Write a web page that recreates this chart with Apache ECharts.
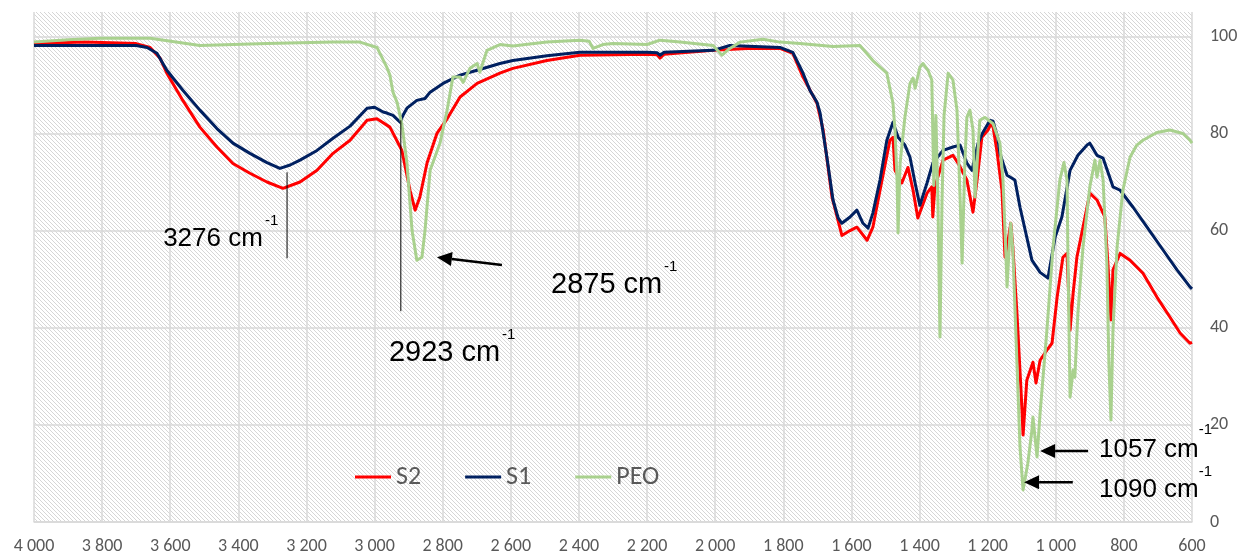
<!DOCTYPE html>
<html>
<head>
<meta charset="utf-8">
<script src="https://cdn.jsdelivr.net/npm/echarts@6/dist/echarts.min.js"></script>
<style>
  html, body { margin: 0; padding: 0; background: #fff; }
  #chart { width: 1244px; height: 556px; }
</style>
</head>
<body>
<div id="chart"></div>
<script>
// FTIR spectra, [wavenumber cm-1, transmittance %]
var s2Data = [
  [4000, 98.5], [3850, 98.8], [3700, 98.5], [3659, 97.7], [3630, 95.5], [3610, 92.4],
  [3563, 86.8], [3513, 81.3], [3463, 77.2], [3416, 73.8], [3366, 71.8], [3316, 70],
  [3269, 68.7], [3219, 70], [3169, 72.4], [3122, 75.9], [3072, 78.6], [3022, 82.7],
  [2993, 83], [2955, 81.3], [2925, 77.2], [2920, 76.5], [2896, 68.3],
  [2881, 64.2], [2867, 66.9], [2846, 73.9], [2817, 80], [2787, 83], [2749, 87.5],
  [2699, 90.3], [2632, 92.4], [2594, 93.4], [2494, 95], [2397, 96.1], [2200, 96.3],
  [2170, 96.2], [2162, 95.5], [2150, 96.3], [2006, 97.1], [1907, 97.5], [1810, 97.5],
  [1772, 96.5], [1742, 91.6], [1701, 86.2], [1683, 80.7], [1657, 66.9], [1628, 59],
  [1604, 60], [1584, 60.7], [1554, 58], [1537, 60.7], [1516, 68.3], [1487, 78.6],
  [1478, 79.2], [1472, 72.4], [1452, 69.8], [1434, 73], [1419, 68.3], [1405, 62.6],
  [1378, 67.7], [1364, 69], [1361, 62.8], [1355, 69], [1331, 74.5], [1302, 75.5],
  [1287, 73.9], [1261, 70.4], [1243, 63.8], [1231, 70.4], [1217, 79.2], [1199, 80.7],
  [1190, 82], [1184, 81.3], [1173, 76.5], [1158, 68.3], [1149, 54.5], [1140, 58],
  [1132, 61.5], [1126, 56.6], [1114, 43], [1101, 25.7], [1096, 17.9], [1085, 29.2],
  [1067, 32.9], [1058, 28.6], [1046, 33.3], [1026, 35.4], [1011, 36.8], [996, 46.3],
  [979, 54.5], [967, 55.3], [958, 39.5], [949, 47.1], [938, 54.5], [920, 60.7],
  [900, 67.7], [879, 66.3], [856, 62.8], [847, 53.3], [838, 41.6], [832, 51.9],
  [811, 55.3], [782, 53.9], [744, 51.2], [703, 46.3], [665, 42.2], [635, 38.9],
  [606, 36.8], [600, 37]
];

var s1Data = [
  [4000, 98.1], [3700, 98.1], [3668, 97.7], [3639, 96.5], [3610, 93], [3563, 88.9],
  [3513, 84.8], [3463, 81], [3416, 78], [3366, 75.9], [3316, 74], [3278, 72.8],
  [3248, 73.5], [3219, 74.5], [3169, 76.5], [3122, 79], [3072, 81.5], [3022, 85.2],
  [3000, 85.4], [2975, 84.4], [2964, 84.2], [2946, 83.7], [2925, 82.3], [2917, 83.7], [2905, 85.2],
  [2876, 86.8], [2852, 87.2], [2837, 88.5], [2799, 90.3], [2749, 92], [2699, 93],
  [2632, 94.4], [2594, 95], [2494, 96], [2397, 96.7], [2200, 96.7], [2170, 96.6],
  [2162, 96.1], [2150, 96.7], [2006, 97.1], [1957, 98.1], [1810, 97.7], [1772, 96.7],
  [1742, 92.4], [1722, 88.9], [1701, 86.4], [1692, 84.2], [1672, 75.1], [1654, 66.3],
  [1639, 62.6], [1628, 61.5], [1604, 62.8], [1584, 64.2], [1566, 61.5], [1551, 60.5],
  [1537, 63.6], [1516, 70.4], [1496, 78.6], [1478, 82.3], [1463, 79.2], [1443, 77.6],
  [1428, 75.1], [1413, 69.8], [1399, 65.2], [1378, 69.8], [1361, 73.9], [1331, 76.5],
  [1302, 77.2], [1281, 77.6], [1261, 73.9], [1246, 72.4], [1228, 78], [1214, 80.2],
  [1193, 82.7], [1184, 82.5], [1178, 81], [1170, 79], [1164, 75.9], [1143, 71.4],
  [1120, 70.4], [1105, 64.8], [1085, 58.6], [1070, 53.9], [1046, 51.4], [1023, 50.2],
  [1002, 58.6], [982, 62.8], [958, 72.4], [935, 75.5], [908, 77.6], [900, 78],
  [879, 75.5], [861, 74.9], [832, 69], [811, 68.3], [773, 64.8], [732, 60.7],
  [685, 56], [644, 51.9], [606, 48.4], [600, 48]
];

var peoData = [
  [4000, 98.8], [3900, 99.3], [3806, 99.6], [3659, 99.6], [3513, 98.1], [3316, 98.5],
  [3122, 98.8], [3043, 98.8], [2993, 97.7], [2964, 93.6], [2955, 92], [2946, 88.5],
  [2934, 86.4], [2920, 82], [2905, 73.9], [2890, 60], [2876, 53.9], [2861, 54.5],
  [2852, 60], [2837, 72.4], [2808, 78], [2787, 84.8], [2770, 91.6], [2749, 91.6],
  [2740, 90.5], [2720, 93.4], [2699, 94.4], [2691, 92.6], [2670, 97.1], [2632, 98.3],
  [2594, 98], [2494, 98.8], [2397, 99.2], [2370, 99], [2359, 97.5], [2330, 98.3],
  [2300, 98.5], [2200, 98.3], [2162, 99.2], [2103, 98.8], [2006, 98.1], [1980, 96.1],
  [1957, 97.5], [1927, 98.8], [1860, 99.4], [1810, 98.8], [1751, 98.5], [1654, 97.9],
  [1575, 98.1], [1537, 95], [1496, 92.4], [1478, 86.2], [1472, 80.7], [1466, 70.4],
  [1463, 59.5], [1457, 73.9], [1443, 83.3], [1428, 90.3], [1419, 91.4], [1413, 89.3],
  [1399, 93.6], [1390, 94.4], [1375, 93], [1364, 91], [1358, 69.3], [1352, 83.7],
  [1346, 66.3], [1340, 38.1], [1334, 66], [1328, 83.7], [1316, 92.4], [1302, 91],
  [1290, 84.8], [1281, 66.9], [1275, 53.3], [1267, 73.9], [1261, 83.3], [1252, 84.8],
  [1243, 80.7], [1237, 66.9], [1223, 82.7], [1208, 83.3], [1184, 82], [1164, 78],
  [1155, 70.4], [1149, 60], [1143, 48.4], [1134, 60], [1132, 61.5], [1126, 56],
  [1114, 32.7], [1105, 15.4], [1096, 6.6], [1082, 12.1], [1070, 18.9], [1067, 21.6],
  [1055, 13.4], [1046, 22.4], [1026, 39.5], [1008, 56.6], [988, 70.4], [976, 74],
  [967, 70.4], [964, 53.3], [958, 25.7], [949, 31.3], [944, 29.8], [935, 43],
  [920, 56.6], [900, 69], [885, 74.5], [879, 71], [870, 74.5], [861, 70.4],
  [850, 53.3], [844, 32.7], [838, 21], [832, 39.5], [820, 56.6], [803, 68.3],
  [782, 75.1], [762, 77.6], [744, 78.6], [703, 80.2], [665, 80.7], [627, 80],
  [606, 78.6], [600, 78]
];

var seriesNames = ['S2', 'S1', 'PEO'];
var seriesColors = ['#FF0000', '#002060', '#A9D18E'];

// peak labels: text, where the text starts / ends, and the line or arrow it carries
var peakNotes = [
  { text: '3276 cm', size: 26, at: [3328, 58.4], align: 'right', sup: [3322, 62.1], line: [[3257, 72], [3257, 54.3]] },
  { text: '2923 cm', size: 29, at: [2958, 34.8], align: 'left', sup: [2626, 38.5], line: [[2923, 82.7], [2923, 43.4]] },
  { text: '2875 cm', size: 29, at: [2482, 48.8], align: 'left', sup: [2150, 52.5], arrow: [[2626, 52.9], [2817, 54.5]] },
  { text: '1057 cm', size: 26, at: [873, 14.8], align: 'left', sup: [580, 18.9], arrow: [[905, 14.6], [1046, 14.6]] },
  { text: '1090 cm', size: 26, at: [873, 6.6], align: 'left', sup: [580, 10.3], arrow: [[950, 8.2], [1093, 8.2]] }
];

var tickFont = 'Carlito, Lato, sans-serif';
var noteFont = '"Liberation Sans", Arial, sans-serif';

function hatch() {
  var cv = document.createElement('canvas');
  cv.width = 4; cv.height = 4;
  var ctx = cv.getContext('2d');
  ctx.fillStyle = '#ffffff';
  ctx.fillRect(0, 0, 4, 4);
  ctx.fillStyle = '#d6d6d6';
  for (var i = 0; i < 4; i++) ctx.fillRect(i, i, 1, 1);
  return cv;
}

function fmtWave(v) {
  if (v >= 1000) {
    var r = String(v % 1000);
    while (r.length < 3) r = '0' + r;
    return Math.floor(v / 1000) + ' ' + r;
  }
  return String(v);
}

var chart = echarts.init(document.getElementById('chart'));

var dataSets = [s2Data, s1Data, peoData];
var series = seriesNames.map(function(name, i) {
  return {
    name: name,
    type: 'line',
    data: dataSets[i],
    showSymbol: false,
    symbol: 'none',
    lineStyle: { color: seriesColors[i], width: 3, join: 'round' },
    itemStyle: { color: seriesColors[i] },
    z: 2 + i
  };
});

chart.setOption({
  animation: false,
  grid: {
    left: 34, right: 52, top: 12, bottom: 34,
    show: true,
    borderWidth: 0,
    backgroundColor: { image: hatch(), repeat: 'repeat' }
  },
  legend: {
    data: seriesNames,
    left: 350,
    top: 459,
    icon: 'rect',
    itemWidth: 36,
    itemHeight: 3,
    itemGap: 44,
    textStyle: { color: '#595959', fontSize: 26, fontFamily: tickFont }
  },
  xAxis: {
    type: 'value',
    inverse: true,
    min: 600,
    max: 4000,
    interval: 200,
    axisLine: { show: true, lineStyle: { color: '#d9d9d9', width: 1.5 } },
    axisTick: { show: false },
    axisLabel: {
      color: '#595959', fontSize: 18, fontFamily: tickFont, margin: 15,
      formatter: fmtWave
    },
    splitLine: { show: true, lineStyle: { color: '#d9d9d9', width: 1.5 } }
  },
  yAxis: {
    type: 'value',
    position: 'right',
    min: 0,
    max: 105,
    interval: 20,
    axisLine: { show: false },
    axisTick: { show: false },
    axisLabel: {
      color: '#595959', fontSize: 18, fontFamily: tickFont, margin: 18,
      showMaxLabel: false
    },
    splitLine: { show: true, showMaxLine: false, lineStyle: { color: '#d9d9d9', width: 1.5 } }
  },
  series: series
});

function px(p) { return chart.convertToPixel({ gridIndex: 0 }, p); }

var elements = [];
peakNotes.forEach(function(n) {
  var a = px(n.at);
  elements.push({
    type: 'text', z: 50,
    style: { text: n.text, x: a[0], y: a[1], align: n.align, verticalAlign: 'middle',
             font: n.size + 'px ' + noteFont, fill: '#000' }
  });
  var s = px(n.sup);
  elements.push({
    type: 'text', z: 50,
    style: { text: '-1', x: s[0], y: s[1], align: 'left', verticalAlign: 'middle',
             font: '15px ' + noteFont, fill: '#000' }
  });
  if (n.line) {
    var p1 = px(n.line[0]), p2 = px(n.line[1]);
    elements.push({
      type: 'line', z: 50,
      shape: { x1: p1[0], y1: p1[1], x2: p2[0], y2: p2[1] },
      style: { stroke: '#000', lineWidth: 1 }
    });
  }
  if (n.arrow) {
    var t = px(n.arrow[0]), h = px(n.arrow[1]);
    var dx = h[0] - t[0], dy = h[1] - t[1];
    var len = Math.sqrt(dx * dx + dy * dy);
    var ux = dx / len, uy = dy / len;
    var bx = h[0] - ux * 15, by = h[1] - uy * 15;
    elements.push({
      type: 'line', z: 50,
      shape: { x1: t[0], y1: t[1], x2: bx, y2: by },
      style: { stroke: '#000', lineWidth: 2.5 }
    });
    elements.push({
      type: 'polygon', z: 50,
      shape: { points: [[h[0], h[1]], [bx - uy * 7, by + ux * 7], [bx + uy * 7, by - ux * 7]] },
      style: { fill: '#000' }
    });
  }
});

chart.setOption({ graphic: elements });
</script>
</body>
</html>
